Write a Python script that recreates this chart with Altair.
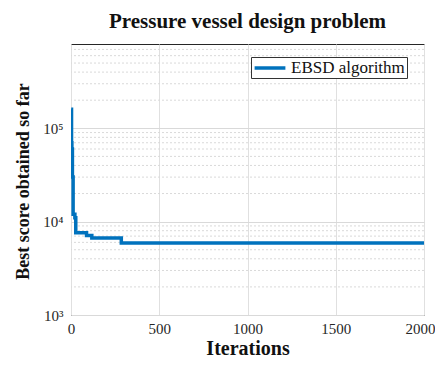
import altair as alt
import pandas as pd

iterations = [1, 3, 5, 8, 12, 22, 27, 88, 118, 285, 760, 2000]
best_score = [1.6e5, 7.0e4, 6.0e4, 3.0e4, 1.2e4, 1.1e4, 7.6e3, 7.1e3, 6.7e3, 5.92e3, 5.89e3, 5.89e3]
series_name = "EBSD algorithm"

x_ticks = [0, 500, 1000, 1500, 2000]
y_major = [1e3, 1e4, 1e5]
y_minor = [m * 10 ** e for e in (3, 4, 5) for m in range(2, 10)]
y_minor = [v for v in y_minor if v < 8e5]

FONT = "Liberation Serif"

df = pd.DataFrame({"Iterations": iterations, "Best": best_score, "series": series_name})
minor_df = pd.DataFrame({"y": y_minor})

xscale = alt.Scale(domain=[0, 2000], nice=False)
yscale = alt.Scale(type="log", domain=[1e3, 8e5], nice=False)

yaxis = alt.Axis(values=y_major, title="Best score obtained so far",
                 grid=True, gridColor="#d9d9d9", gridWidth=1, ticks=False,
                 domain=False, labelFont=FONT, labelFontSize=15,
                 labelColor="#262626", labelPadding=8,
                 labelExpr="datum.value >= 1e5 ? '10⁵' : datum.value >= 1e4 ? '10⁴' : '10³'",
                 titleFont=FONT, titleFontSize=18, titleFontWeight="bold",
                 titleColor="#111111", titlePadding=10, titleY=137)

minor = alt.Chart(minor_df).mark_rule(
    color="#d9d9d9", strokeDash=[2, 2], strokeWidth=1
).encode(y=alt.Y("y:Q", scale=yscale, axis=yaxis))

line = alt.Chart(df).mark_line(
    interpolate="step-after", strokeWidth=3.5, clip=True
).encode(
    x=alt.X("Iterations:Q", scale=xscale,
            axis=alt.Axis(values=x_ticks, title="Iterations", grid=True, format="d",
                          gridColor="#e0e0e0", gridWidth=1, ticks=False,
                          domain=False, labelFont=FONT, labelFontSize=15,
                          labelColor="#262626", labelPadding=6,
                          labelAlign={"expr": "datum.value >= 2000 ? 'right' : 'center'"},
                          labelOffset={"expr": "datum.value >= 2000 ? 11 : 0"},
                          titleFont=FONT, titleFontSize=20, titleFontWeight="bold",
                          titleColor="#111111", titlePadding=2.5, labelFlush=False)),
    y=alt.Y("Best:Q", scale=yscale, axis=yaxis),
    color=alt.Color("series:N", scale=alt.Scale(range=["#0072BD"]),
                    legend=alt.Legend(title=None, orient="none", legendX=180, legendY=13,
                                      symbolType="M-2.2,0H2.2", symbolStrokeWidth=3.5,
                                      symbolFillColor="transparent",
                                      symbolSize=196, symbolOffset=8,
                                      labelFont=FONT, labelFontSize=17,
                                      labelColor="#111111", strokeColor="#333333",
                                      fillColor="white", padding=2, labelOffset=12)),
)

chart = alt.layer(minor, line).properties(
    width=353, height=271,
    title=alt.TitleParams("Pressure vessel design problem", font=FONT, fontSize=21,
                          fontWeight="bold", color="#111111", anchor="middle", offset=12),
    autosize=alt.AutoSizeParams(type="none"),
    padding={"left": 63, "top": 36, "right": 11, "bottom": 44},
).configure_view(stroke="#262626", strokeWidth=1)

chart.save("out.html", embed_options={"renderer": "svg", "actions": False})
